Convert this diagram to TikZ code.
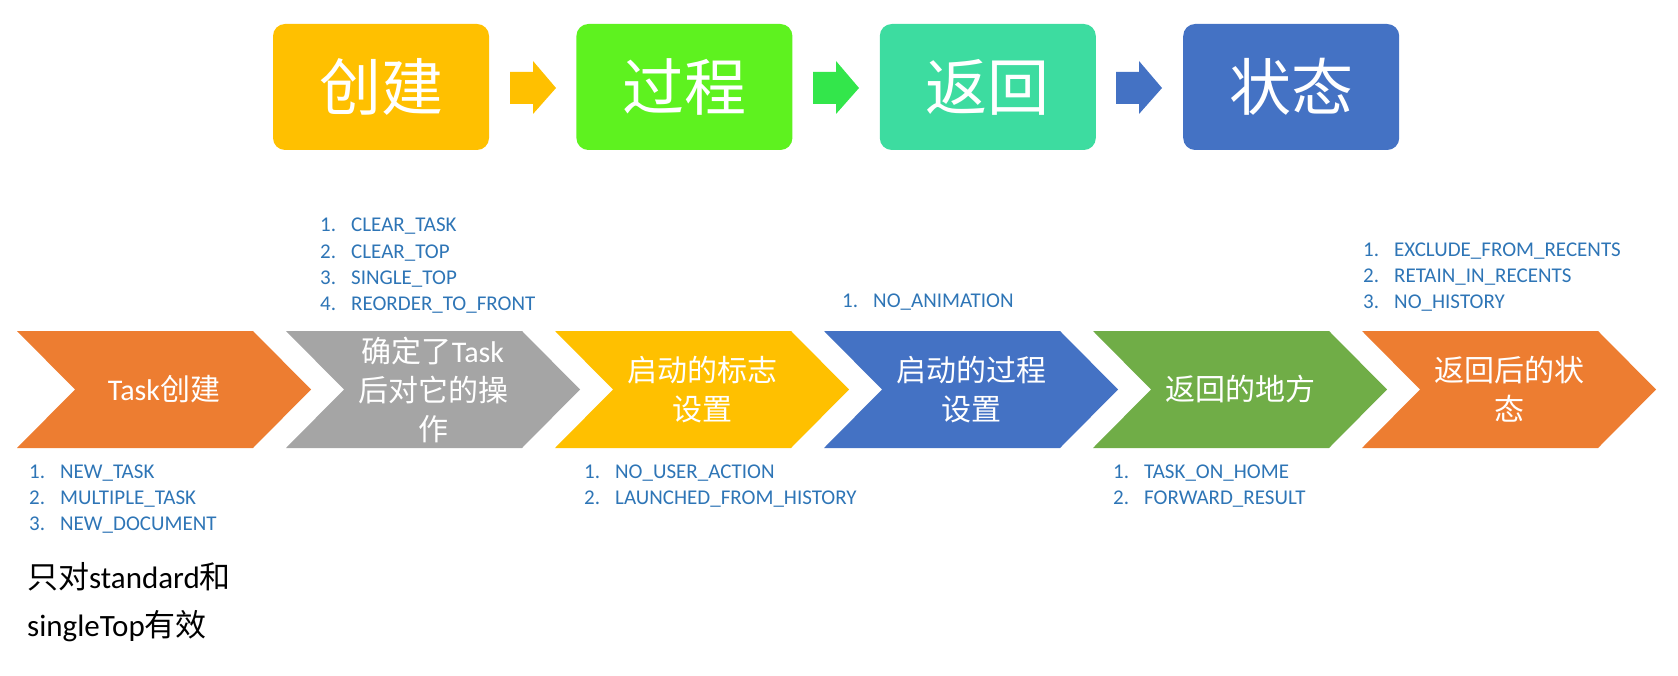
\documentclass[tikz,border=0pt]{standalone}
\usepackage{fontspec}
\setmainfont{Carlito}
\newfontfamily\cjk{Noto Sans CJK SC}
\usetikzlibrary{positioning}
\definecolor{cyellow}{HTML}{FFC000}
\definecolor{clime}{HTML}{5EF21F}
\definecolor{cmint}{HTML}{3DDCA0}
\definecolor{cblue}{HTML}{4472C4}
\definecolor{carrowgreen}{HTML}{33E64B}
\definecolor{corange}{HTML}{ED7D31}
\definecolor{cgray}{HTML}{A5A5A5}
\definecolor{cgreen}{HTML}{70AD47}
\definecolor{cflag}{HTML}{2E75B6}
\newcommand\zh[1]{{\cjk #1}}
\newcommand\itm[2]{\makebox[31pt][l]{#1}#2}
\tikzset{node distance=87pt, auto,
  topbox/.style={rounded corners=12pt, minimum width=216pt, minimum height=126pt,
    text=white, font=\fontsize{62}{70}\selectfont},
  chevtext/.style={text=white, align=center, font=\fontsize{30}{39}\selectfont},
  flaglist/.style={text=cflag, align=left, inner sep=0pt, anchor=base west,
    font=\fontsize{21}{26.3}\selectfont}}

\begin{document}
\begin{tikzpicture}[x=1pt, y=-1pt]
  \useasboundingbox (0,0) rectangle (1678,676);
  % top row
  \node[topbox, fill=cyellow] (create) at (381,87) {\zh{创建}};
  \node[topbox, fill=clime, right=of create] (process) {\zh{过程}};
  \node[topbox, fill=cmint, right=of process] (back) {\zh{返回}};
  \node[topbox, fill=cblue, right=of back] (state) {\zh{状态}};
  \foreach \i/\col in {0/cyellow, 1/carrowgreen, 2/cblue}
    \fill[\col] ({510+303*\i},72) -- ++(23,0) -- ++(0,-11) -- ++(23,27)
      -- ++(-23,26) -- ++(0,-10) -- ++(-23,0) -- cycle;
  % chevrons
  \foreach \i/\col/\txt in {0/corange/{Task\zh{创建}},
      1/cgray/{\zh{确定了}Task\\\zh{后对它的操}\\\zh{作}},
      2/cyellow/{\zh{启动的标志}\\\zh{设置}},
      3/cblue/{\zh{启动的过程}\\\zh{设置}},
      4/cgreen/{\zh{返回的地方}},
      5/corange/{\zh{返回后的状}\\\zh{态}}} {
    \pgfmathsetmacro\x{17+269*\i}
    \fill[\col] (\x,331) -- ++(236,0) -- ++(58,58.5) -- ++(-58,58.5)
      -- ++(-236,0) -- ++(58,-58.5) -- cycle;
    \node[chevtext] (chev\i) at (\x+147,389.5) {\txt};
  }
  % flag lists (base = last line)
  \node[flaglist] (flagtask) at (29,530.6)
    {\itm{1.}{NEW\_TASK}\\\itm{2.}{MULTIPLE\_TASK}\\\itm{3.}{NEW\_DOCUMENT}};
  \node[flaglist] (flagop) at (320,310.9)
    {\itm{1.}{CLEAR\_TASK}\\\itm{2.}{CLEAR\_TOP}\\\itm{3.}{SINGLE\_TOP}\\\itm{4.}{REORDER\_TO\_FRONT}};
  \node[flaglist] (flagstart) at (584,504.3)
    {\itm{1.}{NO\_USER\_ACTION}\\\itm{2.}{LAUNCHED\_FROM\_HISTORY}};
  \node[flaglist] (flagproc) at (842,307) {\itm{1.}{NO\_ANIMATION}};
  \node[flaglist] (flagback) at (1113,504.3)
    {\itm{1.}{TASK\_ON\_HOME}\\\itm{2.}{FORWARD\_RESULT}};
  \node[flaglist] (flagstate) at (1363,308.6)
    {\itm{1.}{EXCLUDE\_FROM\_RECENTS}\\\itm{2.}{RETAIN\_IN\_RECENTS}\\\itm{3.}{NO\_HISTORY}};
  % note
  \node[align=left, inner sep=0pt, anchor=base west, font=\fontsize{31}{48}\selectfont]
    (note) at (27,636) {\zh{只对}standard\zh{和}\\singleTop\zh{有效}};
\end{tikzpicture}
\end{document}
